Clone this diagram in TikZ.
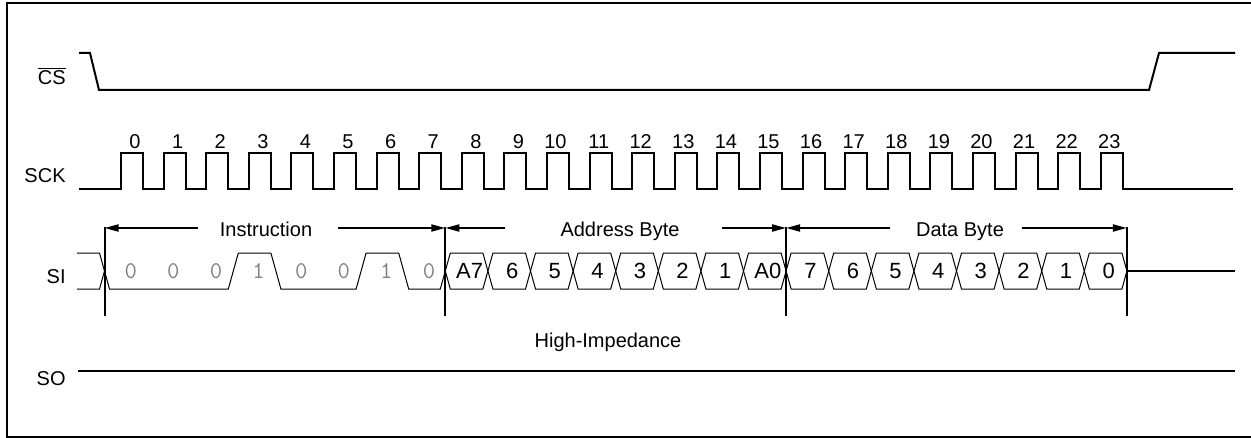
\documentclass[tikz,border=0pt]{standalone}
\usepackage{fontspec}
\setmainfont{Liberation Sans}
\usetikzlibrary{arrows.meta}

\begin{document}
\begin{tikzpicture}[x=0.5pt,y=-0.5pt,>={Triangle[length=7pt,width=3.5pt]},
  sig/.style={line width=1pt},
  bus/.style={line width=0.5pt},
  dim/.style={->,line width=1pt},
  lbl/.style={font=\fontsize{10}{12}\selectfont,inner sep=0pt},
  bit/.style={font=\fontsize{11}{13}\selectfont,inner sep=0pt},
  ibit/.style={font=\ttfamily\fontsize{12}{14}\selectfont,text=gray,inner sep=0pt}]

  \useasboundingbox (0,0) rectangle (1251,438);
  \draw[sig] (1251,3) -- (7,3) -- (7,437) -- (1251,437);

  % signal names
  \node[lbl,anchor=base east] (cs) at (66,85) {$\overline{\mbox{CS}}$};
  \node[lbl,anchor=base east] (sck) at (66,183) {SCK};
  \node[lbl,anchor=base east] (si) at (66,283) {SI};
  \node[lbl,anchor=base east] (so) at (66,385) {SO};

  % chip select
  \draw[sig] (79,53) -- (90,53) -- (99,90) -- (1149,90) -- (1159,53) -- (1235,53);

  % clock
  \draw[sig] (79,189) foreach \i in {0,...,23} {
    -- ({121+42.6*\i},189) -- ++(0,-36) -- ++(22,0) -- ++(0,36) } -- (1233,189);
  \foreach \i in {0,...,23}
    \node[lbl,anchor=base east] (n\i) at ({141+42.6*\i},149) {\i};

  % instruction bits
  \draw[bus] (77,289) -- (99.5,289) -- (104.5,271);
  \draw[bus] (77,253) -- (99.5,253) -- (109.5,289) -- (228.3,289) -- (238.3,253)
    -- (270.9,253) -- (280.9,289) -- (356.1,289) -- (366.1,253) -- (398.7,253)
    -- (408.7,289) -- (440.3,289) -- (445.3,271);
  \foreach \k/\t in {0/0,1/0,2/0,3/1,4/0,5/0,6/1,7/0}
    \node[ibit] (i\k) at ({130.8+42.6*\k},271) {\t};

  % address and data bits
  \foreach \k/\t in {8/A7,9/6,10/5,11/4,12/3,13/2,14/1,15/A0,
                     16/7,17/6,18/5,19/4,20/3,21/2,22/1,23/0} {
    \pgfmathsetmacro\xa{104.5+42.6*\k}
    \pgfmathsetmacro\xb{\xa+42.6}
    \draw[bus] (\xa,271) -- (\xa+5,253) -- (\xb-5,253) -- (\xb,271)
      -- (\xb-5,289) -- (\xa+5,289) -- cycle;
    \node[bit] (d\k) at ({(\xa+\xb)/2+3},271) {\t};
  }
  \draw[sig] (1126.9,271) -- (1235,271);

  % byte markers
  \foreach \k/\x in {0/104.5,1/445.3,2/786.1,3/1126.9} {
    \coordinate (m\k) at (\x,228);
    \draw[sig] (\x,227) -- (\x,316);
  }
  \foreach \n/\x in {ia/198,ib/338,aa/505,ab/722,da/890,db/1022}
    \coordinate (\n) at (\x,228);

  \node[lbl,anchor=base] (instr) at (266,236) {Instruction};
  \node[lbl,anchor=base] (addr) at (620,236) {Address Byte};
  \node[lbl,anchor=base] (data) at (960,236) {Data Byte};
  \draw[dim] (ia) -- (m0);
  \draw[dim] (ib) -- (m1);
  \draw[dim] (aa) -- (m1);
  \draw[dim] (ab) -- (m2);
  \draw[dim] (da) -- (m2);
  \draw[dim] (db) -- (m3);

  % serial out
  \node[lbl,anchor=base] (hiz) at (608,347) {High-Impedance};
  \draw[sig] (78,371) -- (1235,371);
\end{tikzpicture}
\end{document}
